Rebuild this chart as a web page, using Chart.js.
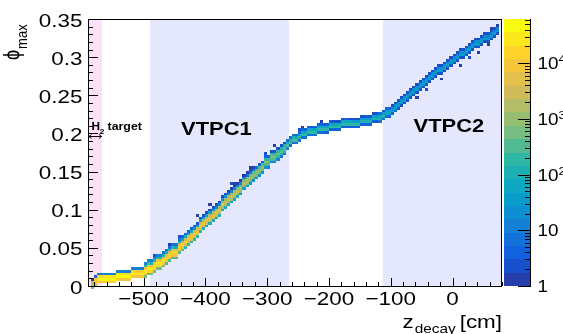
<!DOCTYPE html>
<html>
<head>
<meta charset="utf-8">
<script src="https://cdn.jsdelivr.net/npm/chart.js@4.4.1/dist/chart.umd.min.js"></script>
<style>
  html, body { margin: 0; padding: 0; background: #fff; }
</style>
</head>
<body>
<canvas id="grafico" width="563" height="334"></canvas>
<script>
// binning of the 2D histogram
const zFirst = -585;      // left edge of first filled z column [cm]
const zBinWidth = 5;      // cm
const phiBinWidth = 0.0035;

// phi_max at the ridge of the band, one value per z column (-585 ... 70)
const ridgePhi = [
  0.003, 0.005, 0.007, 0.008, 0.009, 0.009, 0.010, 0.010, 0.011, 0.011,
  0.012, 0.012, 0.013, 0.014, 0.015, 0.016, 0.017, 0.019, 0.021, 0.023,
  0.026, 0.028, 0.031, 0.033, 0.036, 0.039, 0.042, 0.045, 0.049, 0.053,
  0.057, 0.061, 0.065, 0.069, 0.073, 0.077, 0.081, 0.085, 0.089, 0.093,
  0.097, 0.101, 0.105, 0.109, 0.113, 0.117, 0.121, 0.125, 0.129, 0.133,
  0.137, 0.141, 0.145, 0.149, 0.153, 0.157, 0.161, 0.164, 0.168, 0.171,
  0.174, 0.177, 0.180, 0.183, 0.186, 0.189, 0.192, 0.194, 0.196, 0.198,
  0.200, 0.201, 0.202, 0.203, 0.204, 0.205, 0.206, 0.207, 0.208, 0.208,
  0.209, 0.210, 0.210, 0.211, 0.212, 0.212, 0.213, 0.214, 0.214, 0.215,
  0.216, 0.217, 0.218, 0.220, 0.222, 0.224, 0.226, 0.229, 0.232, 0.235,
  0.238, 0.242, 0.245, 0.249, 0.252, 0.256, 0.259, 0.263, 0.266, 0.270,
  0.273, 0.277, 0.280, 0.283, 0.286, 0.289, 0.292, 0.295, 0.298, 0.301,
  0.304, 0.307, 0.310, 0.313, 0.315, 0.318, 0.320, 0.323, 0.325, 0.328,
  0.330, 0.333
];

// entries in the ridge cell of each column
const peakCount = [
  3000, 15000, 30000, 40000, 45000, 50000, 50000, 50000, 50000, 45000,
  45000, 40000, 40000, 38000, 35000, 35000, 33000, 30000, 30000, 28000,
  27000, 25000, 24000, 22000, 20000, 19000, 17000, 16000, 14000, 13000,
  12000, 11000, 10000, 9000, 8500, 8000, 7000, 6500, 6000, 5500,
  5000, 4500, 4200, 3800, 3400, 3000, 2700, 2400, 2100, 1900,
  1700, 1500, 1300, 1100, 1000, 900, 800, 700, 600, 550,
  480, 420, 380, 340, 300, 280, 260, 240, 230, 220,
  210, 200, 200, 190, 190, 180, 180, 180, 170, 170,
  170, 160, 160, 160, 150, 150, 150, 140, 140, 130,
  130, 120, 110, 100, 85, 70, 60, 50, 45, 42,
  40, 40, 40, 39, 39, 38, 38, 37, 37, 36,
  36, 36, 35, 35, 35, 34, 34, 34, 33, 33,
  33, 32, 32, 32, 31, 31, 31, 30, 30, 30,
  28, 20
];

// cross-section of the band (relative to ridge cell, low phi -> high phi)
const profileStartZ = [-585, -500, -270, -120];
const bandProfiles = [
  [0.25, 1, 0.5, 0.0003],
  [0.02, 0.5, 1, 0.3, 0.005, 0.0004],
  [0.03, 1, 0.3, 0.02],
  [0.08, 1, 0.5, 0.06],
];
const profileRidgeRow = [1, 2, 1, 1];

// isolated low-count cells off the band
const strayZ = [-485, -460, -445, -415, -395, -360, -355, -330, -305, -290,
  -250, -245, -215, -175, -140, -60, -45, -20, 10, 25, 40, 55, -30, 60];
const strayPhi = [0.040, 0.055, 0.066, 0.092, 0.105, 0.133, 0.136, 0.155, 0.172, 0.182,
  0.204, 0.207, 0.214, 0.218, 0.222, 0.246, 0.256, 0.272, 0.290, 0.298, 0.307, 0.316, 0.286, 0.336];
const strayCount = [2, 1, 2, 1, 1, 2, 1, 1, 2, 1, 2, 1, 1, 1, 2, 1, 2, 1, 1, 2, 1, 1, 1, 1];

// detector regions along z
const regionZ = [[-590, -568], [-490, -265], [-113, 80]];
const regionLabels = ["VTPC1", "VTPC2"];

// axes
const zTicks = [-500, -400, -300, -200, -100, 0];
const phiTicks = [0, 0.05, 0.1, 0.15, 0.2, 0.25, 0.3, 0.35];
const countMax = 62000;
const nContours = 20;

// kBird palette
const birdStops = [0, 0.125, 0.25, 0.375, 0.5, 0.625, 0.75, 0.875, 1];
const birdR = [0.2082, 0.0592, 0.0780, 0.0232, 0.1802, 0.5301, 0.8186, 0.9956, 0.9764];
const birdG = [0.1664, 0.3599, 0.5041, 0.6419, 0.7178, 0.7492, 0.7328, 0.7862, 0.9832];
const birdB = [0.5293, 0.8684, 0.8385, 0.7914, 0.6425, 0.4662, 0.3499, 0.1968, 0.0539];

function bird(t) {
  let k = 0;
  while (k < birdStops.length - 2 && t > birdStops[k + 1]) k++;
  const f = (t - birdStops[k]) / (birdStops[k + 1] - birdStops[k]);
  const c = (a) => Math.round(255 * (a[k] + f * (a[k + 1] - a[k])));
  return `rgb(${c(birdR)},${c(birdG)},${c(birdB)})`;
}

function levelColor(i) {
  return bird((i + 1) / nContours);
}

function countColor(v) {
  let i = Math.floor((Math.log10(v) / Math.log10(countMax)) * nContours);
  i = Math.max(0, Math.min(nContours - 1, i));
  return levelColor(i);
}

// monta as celulas do histograma
const cellMap = new Map();
function addCell(col, row, v) {
  const key = col + ":" + row;
  const old = cellMap.get(key);
  if (old) old.v += v;
  else cellMap.set(key, { x: zFirst + (col + 0.5) * zBinWidth, y: (row + 0.5) * phiBinWidth, v });
}

ridgePhi.forEach((phi, i) => {
  const z = zFirst + i * zBinWidth;
  let p = profileStartZ.length - 1;
  while (p > 0 && z < profileStartZ[p]) p--;
  const r0 = Math.floor(phi / phiBinWidth) - profileRidgeRow[p];
  bandProfiles[p].forEach((f, k) => {
    const v = Math.round(peakCount[i] * f);
    if (v >= 1) addCell(i, r0 + k, v);
  });
});

strayZ.forEach((z, i) => {
  const col = Math.floor((z - zFirst) / zBinWidth);
  const row = Math.floor(strayPhi[i] / phiBinWidth);
  addCell(col, row, strayCount[i]);
});

const cells = [...cellMap.values()];

const SX = 1.18;
const FONT = '"Liberation Sans", Arial, Helvetica, sans-serif';

function sText(ctx, str, x, y, size, align, bold) {
  ctx.save();
  ctx.font = (bold ? "bold " : "") + size + "px " + FONT;
  ctx.textBaseline = "alphabetic";
  ctx.textAlign = "left";
  const w = ctx.measureText(str).width * SX;
  const x0 = align === "right" ? x - w : align === "center" ? x - w / 2 : x;
  ctx.translate(x0, y);
  ctx.scale(SX, 1);
  ctx.fillText(str, 0, 0);
  ctx.restore();
  return w;
}

function minus(v) {
  return v < 0 ? "\u2212" + Math.abs(v) : String(v);
}

const histPlugin = {
  id: "hist2d",
  beforeDraw(chart) {
    const { ctx, width, height } = chart;
    ctx.save();
    ctx.fillStyle = "#fff";
    ctx.fillRect(0, 0, width, height);
    ctx.restore();
  },
  beforeDatasetsDraw(chart) {
    const { ctx, chartArea: a, scales: { x, y } } = chart;
    ctx.save();
    // faixas dos detectores
    regionZ.forEach((r, i) => {
      ctx.fillStyle = i === 0 ? "#fbe2f9" : "#e5e8fc";
      const x0 = Math.round(x.getPixelForValue(r[0]));
      const x1 = Math.round(x.getPixelForValue(r[1]));
      ctx.fillRect(x0, a.top, x1 - x0, a.bottom - a.top);
    });
    // celulas
    const data = chart.data.datasets[0].data;
    data.forEach((c) => {
      const x0 = Math.round(x.getPixelForValue(c.x - zBinWidth / 2));
      const x1 = Math.round(x.getPixelForValue(c.x + zBinWidth / 2));
      const y0 = Math.round(y.getPixelForValue(c.y - phiBinWidth / 2));
      const y1 = Math.round(y.getPixelForValue(c.y + phiBinWidth / 2));
      ctx.fillStyle = countColor(c.v);
      ctx.fillRect(x0, y1, x1 - x0, y0 - y1);
    });
    ctx.restore();
  },
  afterDatasetsDraw(chart) {
    const { ctx, chartArea: a, scales: { x, y } } = chart;
    ctx.save();
    ctx.fillStyle = "#000";
    ctx.strokeStyle = "#000";
    ctx.lineWidth = 1;

    // moldura
    ctx.strokeRect(a.left + 0.5, a.top + 0.5, a.right - a.left - 1, a.bottom - a.top);

    // ticks do eixo x
    ctx.beginPath();
    for (let v = -580; v <= 80; v += 20) {
      const px = Math.round(x.getPixelForValue(v)) + 0.5;
      const len = v % 100 === 0 ? 8 : 4;
      ctx.moveTo(px, a.bottom);
      ctx.lineTo(px, a.bottom - len);
    }
    // ticks do eixo y
    for (let k = 0; k <= 35; k++) {
      const py = Math.round(y.getPixelForValue(k * 0.01)) + 0.5;
      const len = k % 5 === 0 ? 10 : 5;
      ctx.moveTo(a.left, py);
      ctx.lineTo(a.left + len, py);
    }
    ctx.stroke();

    zTicks.forEach((v) => {
      sText(ctx, minus(v), x.getPixelForValue(v), 305, 19, "center");
    });
    phiTicks.forEach((v) => {
      sText(ctx, String(+v.toFixed(2)), 82.5, y.getPixelForValue(v) + 7.5, 19, "right");
    });

    // titulo do eixo x
    let w = sText(ctx, "[cm]", a.right, 328, 19, "right");
    const xr = a.right - w - 4;
    ctx.font = "13px " + FONT;
    const wd = ctx.measureText("decay").width * SX;
    sText(ctx, "decay", xr - wd, 333, 13, "left");
    ctx.font = "19px " + FONT;
    const wz = ctx.measureText("z").width * SX;
    sText(ctx, "z", xr - wd - wz - 1, 328, 19, "left");

    // titulo do eixo y (rotacionado)
    ctx.save();
    ctx.scale(SX, 1);
    ctx.translate(19.5 / SX, 60);
    ctx.rotate(-Math.PI / 2);
    ctx.font = "18px " + FONT;
    ctx.fillText("\u03D5", 0, 0);
    const wp = ctx.measureText("\u03D5").width;
    ctx.font = "13px " + FONT;
    ctx.fillText("max", wp + 1, 6);
    ctx.restore();

    // rotulos das regioes
    sText(ctx, regionLabels[0], 181, 135, 18.6, "left", true);
    sText(ctx, regionLabels[1], 413.5, 132, 18.6, "left", true);

    // H2 target
    sText(ctx, "H", 91.5, 130, 10, "left", true);
    sText(ctx, "2", 99.5, 134, 7.5, "left", true);
    sText(ctx, "target", 107.5, 130, 10.5, "left", true);
    ctx.beginPath();
    ctx.moveTo(89, 136.5);
    ctx.lineTo(101.5, 136.5);
    ctx.moveTo(91.5, 134.5);
    ctx.lineTo(89, 136.5);
    ctx.lineTo(91.5, 138.5);
    ctx.moveTo(99, 134.5);
    ctx.lineTo(101.5, 136.5);
    ctx.lineTo(99, 138.5);
    ctx.stroke();

    // barra de cores
    const bx0 = 504, bx1 = 531;
    const top = a.top, bot = a.bottom;
    const h = bot - top;
    for (let i = 0; i < nContours; i++) {
      const yb = bot - (i * h) / nContours;
      const yt = bot - ((i + 1) * h) / nContours;
      ctx.fillStyle = levelColor(i);
      ctx.fillRect(bx0, Math.round(yt), bx1 - bx0, Math.round(yb) - Math.round(yt));
    }
    ctx.fillStyle = "#000";
    const lmax = Math.log10(countMax);
    const cy = (v) => bot - (Math.log10(v) / lmax) * h;
    ctx.beginPath();
    ctx.moveTo(bx1 - 0.5, top);
    ctx.lineTo(bx1 - 0.5, bot);
    for (let e = 0; e <= 4; e++) {
      for (let m = 1; m <= 9; m++) {
        const v = m * Math.pow(10, e);
        if (v > countMax) break;
        const py = Math.round(cy(v)) + 0.5;
        ctx.moveTo(bx1, py);
        ctx.lineTo(bx1 - (m === 1 ? 13 : 6), py);
      }
    }
    ctx.stroke();
    for (let e = 0; e <= 4; e++) {
      const py = cy(Math.pow(10, e)) + 6;
      if (e === 0) sText(ctx, "1", 537.5, py, 16, "left");
      else if (e === 1) sText(ctx, "10", 537.5, py, 16, "left");
      else {
        const w10 = sText(ctx, "10", 537.5, py, 16, "left");
        sText(ctx, String(e), 537.5 + w10, py - 6, 11, "left");
      }
    }
    ctx.restore();
  },
};

new Chart(document.getElementById("grafico").getContext("2d"), {
  type: "scatter",
  plugins: [histPlugin],
  data: {
    datasets: [
      {
        data: cells,
        pointRadius: 0,
        pointHoverRadius: 0,
      },
    ],
  },
  options: {
    responsive: false,
    animation: false,
    devicePixelRatio: 1,
    events: [],
    layout: { padding: { left: 88, right: 61, top: 19, bottom: 48 } },
    plugins: { legend: { display: false }, tooltip: { enabled: false } },
    scales: {
      x: { type: "linear", min: -590, max: 80, display: false },
      y: { type: "linear", min: 0, max: 0.35, display: false },
    },
  },
});
</script>
</body>
</html>
